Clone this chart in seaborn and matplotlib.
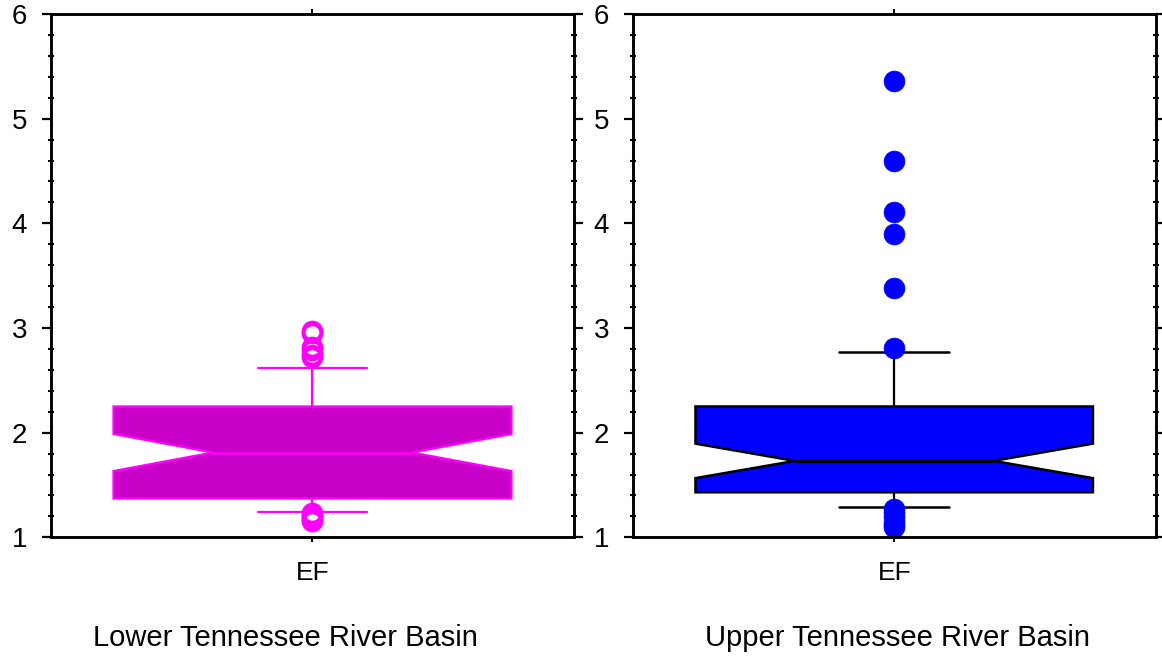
import numpy as np
import pandas as pd
import matplotlib
matplotlib.use("Agg")
import matplotlib.pyplot as plt
from matplotlib.ticker import MultipleLocator
import seaborn as sns

# ---------------- data ----------------
category = ["EF"]
panel_titles = ["Lower Tennessee River Basin", "Upper Tennessee River Basin"]
y_ticks = [1, 2, 3, 4, 5, 6]

lower_ef = [1.16, 1.17, 1.18, 1.19, 1.21, 1.23,
            1.24,
            1.26, 1.28, 1.30, 1.31, 1.33, 1.34, 1.35, 1.36,
            1.37,
            1.39, 1.42, 1.45, 1.48, 1.51, 1.54, 1.57, 1.60, 1.63, 1.66, 1.69, 1.72, 1.75, 1.78,
            1.81,
            1.84, 1.87, 1.90, 1.93, 1.96, 1.99, 2.02, 2.05, 2.08, 2.11, 2.14, 2.17, 2.20, 2.23,
            2.25,
            2.28, 2.31, 2.34, 2.38, 2.42, 2.47, 2.52, 2.57,
            2.62,
            2.72, 2.74, 2.79, 2.82, 2.95, 2.97]

upper_ef = [1.10, 1.12, 1.15, 1.19, 1.23, 1.27,
            1.29,
            1.31, 1.33, 1.35, 1.36, 1.38, 1.39, 1.41, 1.42,
            1.43,
            1.45, 1.47, 1.49, 1.51, 1.53, 1.55, 1.57, 1.59, 1.61, 1.63, 1.65, 1.67, 1.69, 1.71,
            1.73,
            1.76, 1.80, 1.84, 1.88, 1.92, 1.96, 2.00, 2.04, 2.08, 2.12, 2.15, 2.18, 2.21, 2.23,
            2.25,
            2.28, 2.31, 2.35, 2.40, 2.45, 2.52, 2.60, 2.68,
            2.77,
            2.81, 3.38, 3.90, 4.11, 4.60, 5.36]

# ---------------- style ----------------
sns.set_style("ticks")
plt.rcParams["font.family"] = ["Liberation Sans", "DejaVu Sans"]
for k in ["axes.edgecolor", "xtick.color", "ytick.color", "text.color", "axes.labelcolor"]:
    plt.rcParams[k] = "black"

fig = plt.figure(figsize=(11.62, 6.56), dpi=100)
ax1 = fig.add_axes([0.04363, 0.18095, 0.45060, 0.79771])
ax2 = fig.add_axes([0.54449, 0.18095, 0.45009, 0.79771])

df_lower = pd.DataFrame({"variable": category[0], "value": lower_ef})
df_upper = pd.DataFrame({"variable": category[0], "value": upper_ef})

sns.boxplot(data=df_lower, x="variable", y="value", ax=ax1, notch=True,
            whis=(9, 91), width=0.76, capwidths=0.21, color="#C800C8",
            boxprops=dict(facecolor="#C800C8", edgecolor="#FF00FF", linewidth=1.6),
            medianprops=dict(color="#FF00FF", linewidth=1.8),
            whiskerprops=dict(color="#FF00FF", linewidth=1.6),
            capprops=dict(color="#FF00FF", linewidth=1.6),
            flierprops=dict(marker="o", markerfacecolor="none",
                            markeredgecolor="#FF00FF", markersize=13,
                            markeredgewidth=2.6))

sns.boxplot(data=df_upper, x="variable", y="value", ax=ax2, notch=True,
            whis=(9, 91), width=0.76, capwidths=0.21, color="#0000FF",
            boxprops=dict(facecolor="#0000FF", edgecolor="black", linewidth=1.8),
            medianprops=dict(color="black", linewidth=2.2),
            whiskerprops=dict(color="black", linewidth=1.6),
            capprops=dict(color="black", linewidth=1.8),
            flierprops=dict(marker="o", markerfacecolor="#0000FF",
                            markeredgecolor="#0000FF", markersize=15,
                            markeredgewidth=0.5))

label_x = [0.449, 0.507]
for ax, title, lx in zip((ax1, ax2), panel_titles, label_x):
    ax.set_xlim(-0.5, 0.5)
    ax.set_ylim(1, 6)
    ax.set_yticks(y_ticks)
    ax.set_yticklabels([str(t) for t in y_ticks])
    ax.yaxis.set_minor_locator(MultipleLocator(0.2))
    ax.tick_params(axis="y", which="major", direction="out", length=6.5, width=1.6,
                   left=True, right=True, labelleft=True, labelright=False,
                   labelsize=20, pad=10.5)
    ax.tick_params(axis="y", which="minor", direction="inout", length=4.5, width=1.5,
                   left=True, right=True)
    ax.tick_params(axis="x", which="major", direction="out", length=3.6, width=1.5,
                   top=True, bottom=True, labelsize=19, pad=13.5)
    ax.tick_params(axis="x", which="minor", top=False, bottom=False)
    for s in ax.spines.values():
        s.set_visible(True)
        s.set_linewidth(2.1)
        s.set_color("black")
    ax.set_ylabel("")
    ax.set_xlabel(title, fontsize=21)
    ax.xaxis.label.set_va("center")
    ax.xaxis.set_label_coords(lx, -0.193)

fig.savefig("out.png", dpi=100, facecolor="white")
